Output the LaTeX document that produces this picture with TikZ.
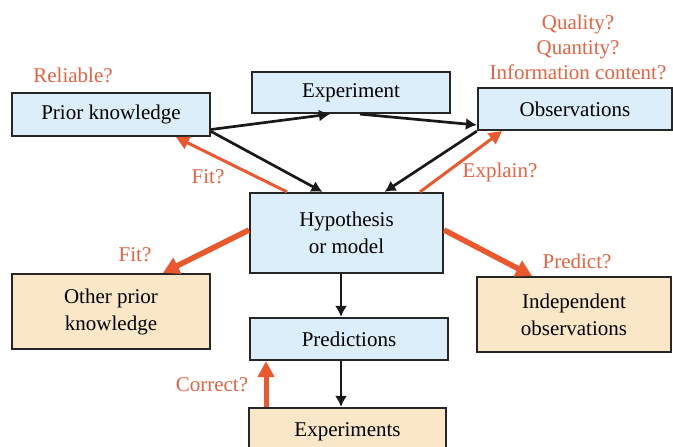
\documentclass[tikz,border=0pt]{standalone}
\usepackage{fontspec}
\setmainfont{Liberation Serif}
\usetikzlibrary{arrows.meta}

\definecolor{boxblue}{RGB}{219,238,250}
\definecolor{boxtan}{RGB}{250,231,200}
\definecolor{qorange}{RGB}{230,98,64}
\definecolor{aorange}{RGB}{236,88,45}

\tikzset{
	box/.style={draw=black!85,line width=2.2pt,inner sep=0pt,align=center,font=\fontsize{21}{27}\selectfont},
	bluebox/.style={box,fill=boxblue},
	tanbox/.style={box,fill=boxtan},
	query/.style={text=qorange,align=center,font=\fontsize{21}{25}\selectfont},
}

\begin{document}
\begin{tikzpicture}[x=1pt,y=-1pt,>={Latex[length=11pt,width=12pt]}]
	\useasboundingbox (0,0) rectangle (673,447);
	\clip (0,0) rectangle (673,447);

	% boxes
	\node[bluebox,minimum width=198pt,minimum height=43pt] (pk) at (111,114.5) {Prior knowledge};
	\node[bluebox,minimum width=198pt,minimum height=41pt] (exp) at (351,92.5) {Experiment};
	\node[bluebox,minimum width=194pt,minimum height=42pt] (obs) at (575,109) {Observations};
	\node[bluebox,minimum width=193pt,minimum height=80pt] (hyp) at (346.5,233) {Hypothesis\\or model};
	\node[tanbox,minimum width=198pt,minimum height=75pt] (opk) at (111,311.5) {Other prior\\knowledge};
	\node[tanbox,minimum width=194pt,minimum height=75pt] (ind) at (574,314.5) {Independent\\observations};
	\node[bluebox,minimum width=198pt,minimum height=42pt] (pred) at (349,339) {Predictions};
	\node[tanbox,minimum width=197pt,minimum height=48pt] (exps) at (347.5,432) {Experiments};

	% questions
	\node[query] (reliable) at (73,75) {Reliable?};
	\node[query] (quality) at (578,47) {Quality?\\Quantity?\\Information content?};
	\node[query] (fit) at (208,177) {Fit?};
	\node[query] (explain) at (500,172) {Explain?};
	\node[query] (fit2) at (135,255) {Fit?};
	\node[query] (predict) at (577,261) {Predict?};
	\node[query] (correct) at (212,385) {Correct?};

	% black flow
	\begin{scope}[line width=2.7pt,black!90]
		\draw[->] ([yshift=-15pt]pk.east) -- ([xshift=-21pt]exp.south);
		\draw[->] ([xshift=9pt]exp.south) -- ([yshift=-16pt]obs.west);
		\draw[->] ([yshift=-17pt]pk.east) -- ([xshift=-24pt]hyp.north);
		\draw[->] (obs.south west) -- ([xshift=38pt]hyp.north);
		\draw[->] ([xshift=-5.5pt]hyp.south) -- ([xshift=-8pt]pred.north);
		\draw[->] ([xshift=-8pt]pred.south) -- ([xshift=-6.5pt]exps.north);
	\end{scope}

	% orange checks
	\begin{scope}[aorange]
		\draw[line width=3pt,-{Triangle[length=13pt,width=13pt]}] ([xshift=-59.5pt]hyp.north) -- ([xshift=65pt]pk.south);
		\draw[line width=3pt,-{Triangle[length=13pt,width=13pt]}] ([xshift=73.5pt]hyp.north) -- ([xshift=-73pt]obs.south);
		\draw[line width=5.5pt,-{Triangle[length=16pt,width=17pt]}] ([yshift=3pt]hyp.west) -- ([xshift=52pt]opk.north);
		\draw[line width=5.5pt,-{Triangle[length=16pt,width=17pt]}] ([yshift=3pt]hyp.east) -- ([xshift=-42pt]ind.north);
		\draw[line width=5pt,-{Triangle[length=16pt,width=16pt]}] ([xshift=-81.5pt]exps.north) -- ([xshift=-83pt]pred.south);
	\end{scope}
\end{tikzpicture}
\end{document}
